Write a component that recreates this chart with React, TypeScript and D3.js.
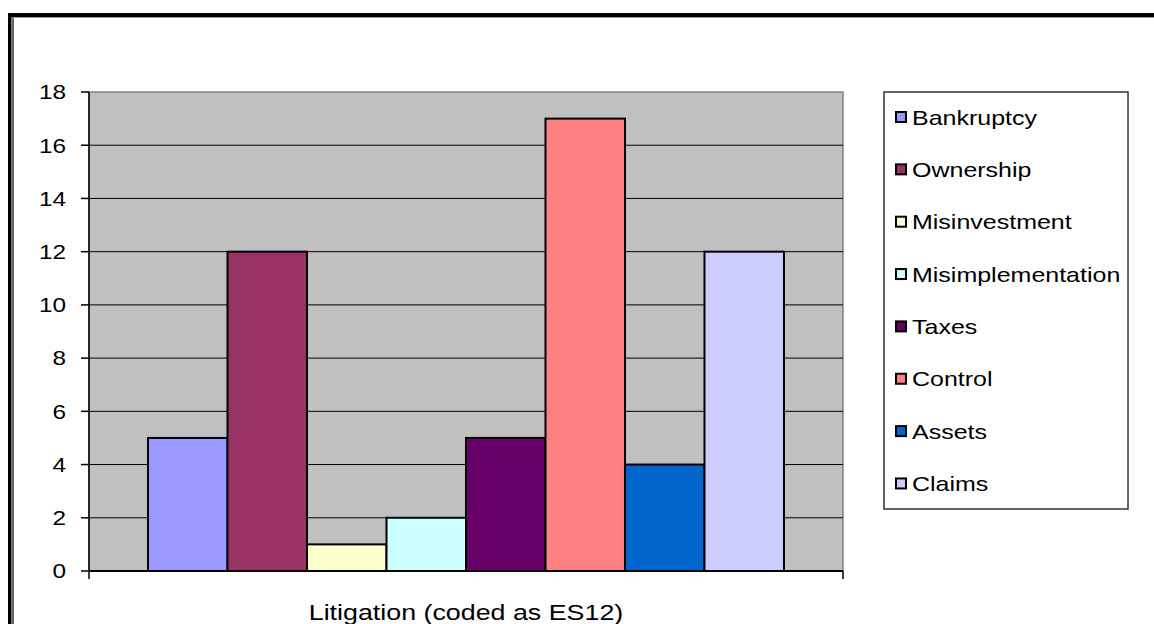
import * as d3 from 'd3';

const category = 'Litigation (coded as ES12)';
const seriesNames = [
	'Bankruptcy',
	'Ownership',
	'Misinvestment',
	'Misimplementation',
	'Taxes',
	'Control',
	'Assets',
	'Claims',
];
const seriesValues = [5, 12, 1, 2, 5, 17, 4, 12];
const seriesColors = [
	'#9999FF',
	'#993366',
	'#FFFFCC',
	'#CCFFFF',
	'#660066',
	'#FF8080',
	'#0066CC',
	'#CCCCFF',
];
const yTicks = [0, 2, 4, 6, 8, 10, 12, 14, 16, 18];

const svgWidth = 1154,
	svgHeight = 624;

const plot = { left: 89, right: 843, top: 92, bottom: 571 };
const legend = { left: 884, right: 1128, top: 92, bottom: 509, firstY: 117, step: 52.35 };

// the source picture is stretched sideways, so text gets the same stretch
const font = '"Liberation Sans", Arial, sans-serif';

export default function App() {
	const x0 = d3
		.scaleBand<string>()
		.domain([category])
		.range([plot.left, plot.right])
		.paddingOuter(0.0928);
	const x1 = d3
		.scaleBand<string>()
		.domain(seriesNames)
		.range([0, x0.bandwidth()]);
	const y = d3.scaleLinear().domain([0, 18]).range([plot.bottom, plot.top]);

	return (
		<svg
			width={svgWidth}
			height={svgHeight}
			viewBox={`0 0 ${svgWidth} ${svgHeight}`}
			style={{ position: 'absolute', left: 0, top: 0, background: 'white' }}
		>
			{/* frame */}
			<rect x={8} y={13} width={svgWidth - 8} height={4} fill="#000" />
			<rect x={8} y={13} width={3.5} height={svgHeight - 13} fill="#000" />
			<line x1={13} x2={13} y1={17} y2={svgHeight} stroke="#000" strokeWidth={1.2} />
			<line x1={13} x2={svgWidth} y1={17.5} y2={17.5} stroke="#999" strokeWidth={1} />

			{/* plot area */}
			<rect
				x={plot.left}
				y={plot.top}
				width={plot.right - plot.left}
				height={plot.bottom - plot.top}
				fill="#C0C0C0"
				stroke="#808080"
				strokeWidth={1.5}
			/>
			{yTicks
				.filter((d) => d > 0 && d < 18)
				.map((d) => (
					<line
						key={d}
						x1={plot.left}
						x2={plot.right}
						y1={y(d)}
						y2={y(d)}
						stroke="#000"
						strokeWidth={1}
					/>
				))}

			{/* bars */}
			<g transform={`translate(${x0(category)}, 0)`}>
				{seriesNames.map((s, i) => (
					<rect
						key={s}
						x={x1(s)}
						y={y(seriesValues[i])}
						width={x1.bandwidth()}
						height={y(0) - y(seriesValues[i])}
						fill={seriesColors[i]}
						stroke="#000"
						strokeWidth={2}
					/>
				))}
			</g>

			{/* left axis */}
			<line x1={plot.left} x2={plot.left} y1={plot.top} y2={plot.bottom} stroke="#000" strokeWidth={1.5} />
			{yTicks.map((d) => (
				<g key={d} transform={`translate(0, ${y(d)})`}>
					<line x1={plot.left - 8} x2={plot.left} y1={0} y2={0} stroke="#000" strokeWidth={1.5} />
					<text
						transform="translate(66, 0) scale(1.16, 1)"
						textAnchor="end"
						dominantBaseline="central"
						fontFamily={font}
						fontSize={21}
						fill="#000"
					>
						{d}
					</text>
				</g>
			))}

			{/* bottom axis */}
			<line x1={plot.left} x2={plot.right} y1={plot.bottom} y2={plot.bottom} stroke="#000" strokeWidth={2} />
			{[plot.left, plot.right].map((px) => (
				<line key={px} x1={px} x2={px} y1={plot.bottom} y2={plot.bottom + 8} stroke="#000" strokeWidth={1.5} />
			))}
			<text
				transform={`translate(${(x0(category) ?? 0) + x0.bandwidth() / 2}, 620) scale(1.22, 1)`}
				textAnchor="middle"
				fontFamily={font}
				fontSize={22}
				fill="#000"
			>
				{category}
			</text>

			{/* legend */}
			<rect
				x={legend.left}
				y={legend.top}
				width={legend.right - legend.left}
				height={legend.bottom - legend.top}
				fill="#fff"
				stroke="#333"
				strokeWidth={1.5}
			/>
			{seriesNames.map((s, i) => {
				const cy = legend.firstY + i * legend.step;
				return (
					<g key={s}>
						<rect
							x={896}
							y={cy - 5}
							width={10}
							height={10}
							fill={seriesColors[i]}
							stroke="#000"
							strokeWidth={2}
						/>
						<text
							transform={`translate(912, ${cy + 7.5}) scale(1.19, 1)`}
							fontFamily={font}
							fontSize={21}
							fill="#000"
						>
							{s}
						</text>
					</g>
				);
			})}
		</svg>
	);
}
